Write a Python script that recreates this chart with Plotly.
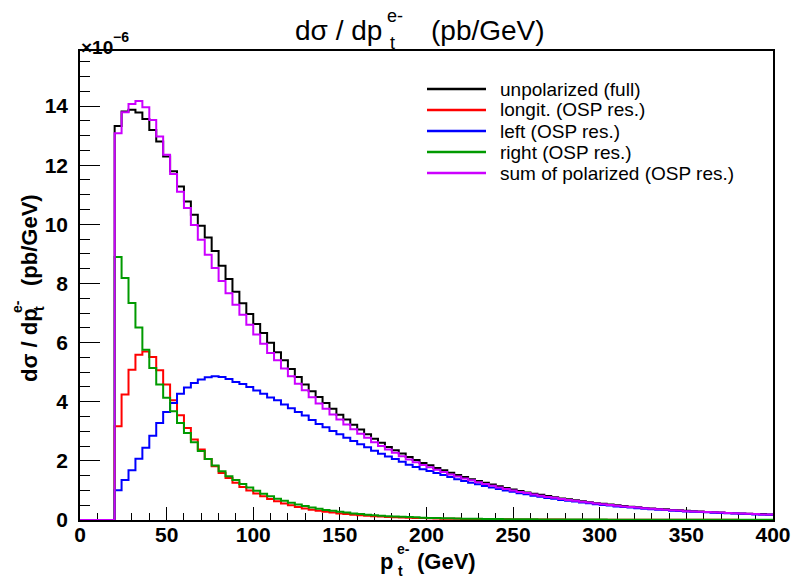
import plotly.graph_objects as go

# ---------------- data (units of 1e-6 pb/GeV), 4 GeV bins from 0 to 400 ----------------
bin_width = 4
x_min, x_max = 0, 400
empty_bins = [0.0] * 5  # 0-20 GeV are empty

unpolarized = empty_bins + [
    13.32, 13.81, 13.87, 13.78, 13.56, 13.19, 12.80, 12.29, 11.79, 11.28,
    10.77, 10.32, 9.95, 9.55, 9.10, 8.60, 8.15, 7.72, 7.33, 6.97,
    6.63, 6.32, 5.99, 5.67, 5.40, 5.11, 4.84, 4.58, 4.35, 4.16,
    3.96, 3.76, 3.56, 3.40, 3.22, 3.06, 2.90, 2.75, 2.61, 2.47,
    2.36, 2.25, 2.13, 2.03, 1.93, 1.85, 1.76, 1.68, 1.60, 1.52,
    1.45, 1.38, 1.32, 1.26, 1.20, 1.14, 1.08, 1.03, 0.98, 0.93,
    0.89, 0.85, 0.81, 0.77, 0.73, 0.70, 0.67, 0.63, 0.60, 0.57,
    0.55, 0.52, 0.50, 0.47, 0.45, 0.43, 0.41, 0.39, 0.37, 0.36,
    0.34, 0.33, 0.31, 0.30, 0.29, 0.27, 0.26, 0.25, 0.24, 0.23,
    0.22, 0.21, 0.20, 0.20, 0.19]

longit = empty_bins + [
    3.17, 4.24, 5.08, 5.59, 5.70, 5.51, 5.06, 4.58, 4.05, 3.54,
    3.11, 2.72, 2.38, 2.06, 1.82, 1.59, 1.42, 1.26, 1.12, 1.00,
    0.90, 0.80, 0.71, 0.63, 0.56, 0.50, 0.44, 0.39, 0.35, 0.31,
    0.28, 0.25, 0.22, 0.20, 0.18, 0.16, 0.14, 0.13, 0.12, 0.10,
    0.09, 0.085, 0.08, 0.07, 0.065, 0.055, 0.05, 0.046, 0.042, 0.039,
    0.036, 0.033, 0.03, 0.028, 0.026, 0.024, 0.022, 0.02, 0.019, 0.018,
    0.017, 0.016, 0.015, 0.014, 0.013, 0.012, 0.012, 0.011, 0.011, 0.010,
    0.010, 0.009, 0.009, 0.008, 0.008, 0.008, 0.007, 0.007, 0.007, 0.007,
    0.006, 0.006, 0.006, 0.006, 0.005, 0.005, 0.005, 0.005, 0.005, 0.005,
    0.004, 0.004, 0.004, 0.004, 0.004]

left = empty_bins + [
    1.01, 1.35, 1.68, 2.07, 2.44, 2.85, 3.28, 3.65, 3.96, 4.27,
    4.48, 4.63, 4.75, 4.83, 4.86, 4.84, 4.77, 4.67, 4.60, 4.50,
    4.38, 4.27, 4.14, 4.05, 3.91, 3.78, 3.65, 3.53, 3.38, 3.25,
    3.14, 3.01, 2.90, 2.78, 2.67, 2.56, 2.46, 2.34, 2.24, 2.15,
    2.06, 1.97, 1.87, 1.79, 1.72, 1.66, 1.59, 1.52, 1.45, 1.38,
    1.32, 1.26, 1.21, 1.15, 1.10, 1.045, 1.00, 0.953, 0.905, 0.868,
    0.82, 0.783, 0.745, 0.717, 0.679, 0.651, 0.622, 0.594, 0.565, 0.536,
    0.507, 0.488, 0.46, 0.44, 0.42, 0.40, 0.382, 0.363, 0.344, 0.334,
    0.315, 0.305, 0.287, 0.277, 0.267, 0.258, 0.248, 0.238, 0.229, 0.22,
    0.21, 0.20, 0.19, 0.18, 0.18]

right = empty_bins + [
    8.89, 8.18, 7.34, 6.51, 5.76, 5.14, 4.58, 4.13, 3.68, 3.28,
    2.94, 2.63, 2.33, 2.06, 1.84, 1.65, 1.48, 1.35, 1.22, 1.10,
    0.99, 0.89, 0.80, 0.72, 0.65, 0.58, 0.52, 0.47, 0.42, 0.38,
    0.34, 0.31, 0.28, 0.25, 0.22, 0.20, 0.18, 0.16, 0.145, 0.13,
    0.12, 0.11, 0.10, 0.09, 0.08, 0.07, 0.065, 0.06, 0.055, 0.05,
    0.046, 0.042, 0.039, 0.036, 0.033, 0.031, 0.029, 0.027, 0.025, 0.023,
    0.022, 0.021, 0.02, 0.019, 0.018, 0.017, 0.016, 0.015, 0.014, 0.014,
    0.013, 0.012, 0.012, 0.011, 0.011, 0.010, 0.010, 0.010, 0.009, 0.009,
    0.009, 0.008, 0.008, 0.008, 0.008, 0.007, 0.007, 0.007, 0.007, 0.006,
    0.006, 0.006, 0.006, 0.006, 0.005]

sum_polarized = empty_bins + [
    13.08, 13.79, 14.07, 14.17, 13.96, 13.53, 12.97, 12.35, 11.70, 11.10,
    10.55, 9.98, 9.48, 8.97, 8.52, 8.08, 7.67, 7.28, 6.94, 6.60,
    6.27, 5.96, 5.65, 5.40, 5.12, 4.86, 4.61, 4.39, 4.15, 3.94,
    3.76, 3.57, 3.40, 3.23, 3.07, 2.92, 2.78, 2.63, 2.50, 2.38,
    2.27, 2.16, 2.05, 1.95, 1.86, 1.78, 1.70, 1.62, 1.54, 1.47,
    1.40, 1.34, 1.28, 1.22, 1.16, 1.10, 1.05, 1.00, 0.95, 0.91,
    0.86, 0.82, 0.78, 0.75, 0.71, 0.68, 0.65, 0.62, 0.59, 0.56,
    0.53, 0.51, 0.48, 0.46, 0.44, 0.42, 0.40, 0.38, 0.36, 0.35,
    0.33, 0.32, 0.30, 0.29, 0.28, 0.27, 0.26, 0.25, 0.24, 0.23,
    0.22, 0.21, 0.20, 0.19, 0.19]

series_names = ["unpolarized (full)", "longit. (OSP res.)", "left (OSP res.)",
                "right (OSP res.)", "sum of polarized (OSP res.)"]
series_values = [unpolarized, longit, left, right, sum_polarized]
series_colors = ["#000000", "#ff0000", "#0000ff", "#009a00", "#cc00ff"]

# ---------------- figure ----------------
W, H = 794, 579
L, R, T, B = 80, 773, 51, 520   # plot area in pixels
FONT = "Liberation Sans, Arial, Helvetica, sans-serif"


def px(x):
    return (x - L) / (R - L)


def py(y):
    return (B - y) / (B - T)


nbins = len(unpolarized)
edges = [x_min + i * bin_width for i in range(nbins + 1)]

fig = go.Figure()
for name, vals, col in zip(series_names, series_values, series_colors):
    fig.add_trace(go.Scatter(
        x=edges, y=list(vals) + [vals[-1]], mode="lines", name=name,
        line=dict(color=col, width=2, shape="hv"), showlegend=False,
        hoverinfo="skip"))

annotations = []
shapes = []

# legend drawn by hand (ROOT-like)
leg_y = [89, 110, 131, 152, 173]
for name, col, yy in zip(series_names, series_colors, leg_y):
    shapes.append(dict(type="line", xref="paper", yref="paper",
                       x0=px(427), x1=px(486), y0=py(yy), y1=py(yy),
                       line=dict(color=col, width=2.5)))
    annotations.append(dict(text=name, xref="paper", yref="paper",
                            x=px(498), y=py(yy), xanchor="left", yanchor="middle",
                            showarrow=False, font=dict(family=FONT, size=19, color="black")))

# title: dσ / dp_t^{e-}  (pb/GeV)
tfs = 28
annotations += [
    dict(text="dσ / dp", x=px(384), y=py(30), xanchor="right", yanchor="middle",
         font=dict(family=FONT, size=tfs)),
    dict(text="e-", x=px(385), y=py(16), xanchor="left", yanchor="middle",
         font=dict(family=FONT, size=18)),
    dict(text="t", x=px(388), y=py(43), xanchor="left", yanchor="middle",
         font=dict(family=FONT, size=18)),
    dict(text="(pb/GeV)", x=px(429), y=py(30), xanchor="left", yanchor="middle",
         font=dict(family=FONT, size=tfs)),
]

# x axis title: p_t^{e-} (GeV)
afs = 22
annotations += [
    dict(text="<b>p</b>", x=px(395), y=py(561), xanchor="right", yanchor="middle",
         font=dict(family=FONT, size=afs)),
    dict(text="<b>e-</b>", x=px(395), y=py(549), xanchor="left", yanchor="middle",
         font=dict(family=FONT, size=14)),
    dict(text="<b>t</b>", x=px(396), y=py(571), xanchor="left", yanchor="middle",
         font=dict(family=FONT, size=14)),
    dict(text="<b>(GeV)</b>", x=px(415), y=py(561), xanchor="left", yanchor="middle",
         font=dict(family=FONT, size=afs)),
]

# y axis title (rotated)
annotations += [
    dict(text="<b>dσ / dp</b>", x=px(29), y=py(384), xanchor="center", yanchor="bottom",
         textangle=-90, font=dict(family=FONT, size=afs)),
    dict(text="<b>e-</b>", x=px(17), y=py(307), xanchor="center", yanchor="middle",
         textangle=-90, font=dict(family=FONT, size=14)),
    dict(text="<b>t</b>", x=px(39), y=py(309), xanchor="center", yanchor="middle",
         textangle=-90, font=dict(family=FONT, size=14)),
    dict(text="<b>(pb/GeV)</b>", x=px(29), y=py(288), xanchor="center", yanchor="bottom",
         textangle=-90, font=dict(family=FONT, size=afs)),
]

# exponent label ×10^-6
annotations += [
    dict(text="<b>×10</b>", x=px(79), y=py(47), xanchor="left", yanchor="middle",
         font=dict(family=FONT, size=19)),
    dict(text="<b>−6</b>", x=px(111), y=py(37), xanchor="left", yanchor="middle",
         font=dict(family=FONT, size=14)),
]

for a in annotations:
    a.setdefault("xref", "paper")
    a.setdefault("yref", "paper")
    a.setdefault("showarrow", False)
    a["font"].setdefault("color", "black")

fig.update_layout(
    width=W, height=H,
    margin=dict(l=L, r=W - R, t=T, b=H - B, autoexpand=False),
    paper_bgcolor="white", plot_bgcolor="white",
    font=dict(family=FONT, color="black"),
    annotations=annotations, shapes=shapes,
    showlegend=False,
)

fig.update_xaxes(
    range=[x_min, x_max], showgrid=False, zeroline=False,
    showline=True, linecolor="black", linewidth=1.5, mirror=True,
    ticks="inside", ticklen=13, tickwidth=1, tickcolor="black",
    tick0=0, dtick=50,
    minor=dict(ticks="inside", ticklen=7, dtick=10, tickwidth=1, tickcolor="black", showgrid=False),
    tickfont=dict(family=FONT, size=21, color="black", weight="bold"),
    ticklabelstandoff=-5, layer="below traces",
)
fig.update_yaxes(
    range=[0, 15.86], showgrid=False, zeroline=False,
    showline=True, linecolor="black", linewidth=1.5, mirror=True,
    ticks="inside", ticklen=20, tickwidth=1, tickcolor="black",
    tick0=0, dtick=2,
    minor=dict(ticks="inside", ticklen=10, dtick=0.5, tickwidth=1, tickcolor="black", showgrid=False),
    tickfont=dict(family=FONT, size=21, color="black", weight="bold"),
    ticklabelstandoff=6, layer="below traces",
)

fig.write_html("out.html", config={"displayModeBar": False},
               post_script="document.body.style.margin='0';document.body.style.overflow='hidden';")
